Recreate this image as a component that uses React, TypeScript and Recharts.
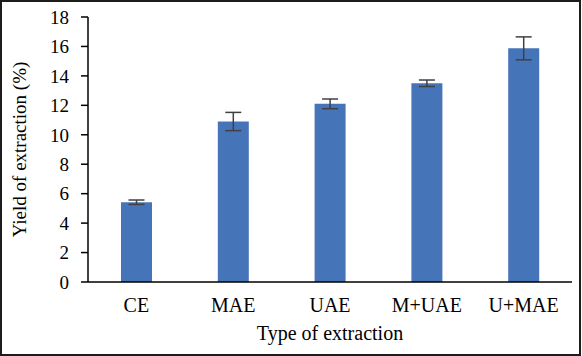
import React from "react";
import { BarChart, Bar, XAxis, YAxis, ErrorBar, Label } from "recharts";

const categories = ["CE", "MAE", "UAE", "M+UAE", "U+MAE"];
const yieldValues = [5.42, 10.9, 12.1, 13.5, 15.87];
const errors = [0.15, 0.62, 0.33, 0.22, 0.78];
const yTicks = [0, 2, 4, 6, 8, 10, 12, 14, 16, 18];

const data = categories.map((c, i) => ({ name: c, value: yieldValues[i], err: errors[i] }));

const font = "'Liberation Serif', 'Times New Roman', serif";

export default function App() {
  return (
    <div style={{ position: "absolute", left: 0, top: 0, width: 582, height: 356, background: "#fff" }}>
      <div
        style={{
          position: "absolute",
          left: 0,
          top: 0,
          width: 581,
          height: 356,
          boxSizing: "border-box",
          border: "2px solid #1c1c1c",
        }}
      />
      <div style={{ position: "absolute", left: 0, top: 0 }}>
        <BarChart
          width={582}
          height={356}
          data={data}
          margin={{ top: 17, right: 10, left: 0, bottom: 14 }}
        >
          <XAxis
            dataKey="name"
            height={60}
            axisLine={{ stroke: "#000", strokeWidth: 1.5 }}
            tickLine={false}
            tickSize={0}
            tickMargin={16}
            tick={{ fill: "#000", fontSize: 20, fontFamily: font }}
          >
            <Label
              value="Type of extraction"
              position="insideBottom"
              offset={2}
              style={{ fill: "#000", fontSize: 20, fontFamily: font }}
            />
          </XAxis>
          <YAxis
            width={88}
            domain={[0, 18]}
            ticks={yTicks}
            interval={0}
            axisLine={{ stroke: "#000", strokeWidth: 1.5 }}
            tickLine={{ stroke: "#000", strokeWidth: 1.5 }}
            tickSize={7}
            tickMargin={12}
            tick={{ fill: "#000", fontSize: 19, fontFamily: font }}
          >
            <Label
              value="Yield of extraction (%)"
              angle={-90}
              position="insideLeft"
              offset={19}
              style={{ fill: "#000", fontSize: 19, fontFamily: font, textAnchor: "middle" }}
            />
          </YAxis>
          <Bar dataKey="value" fill="#4674B8" barSize={31} isAnimationActive={false}>
            <ErrorBar dataKey="err" width={8} stroke="#404040" strokeWidth={1.5} />
          </Bar>
        </BarChart>
      </div>
    </div>
  );
}
